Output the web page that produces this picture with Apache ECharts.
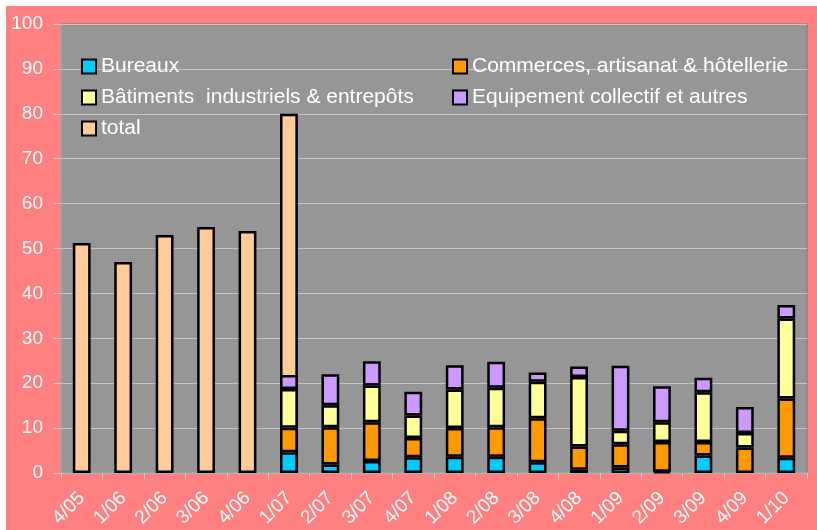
<!DOCTYPE html>
<html><head><meta charset="utf-8">
<script src="https://cdn.jsdelivr.net/npm/echarts@6/dist/echarts.min.js"></script>
<style>html,body{margin:0;padding:0;background:#fff;width:817px;height:530px;overflow:hidden}
#c{position:absolute;left:6px;top:6px;width:811px;height:524px}</style>
</head><body><div id="c"></div>
<script>
var categories = ['4/05','1/06','2/06','3/06','4/06','1/07','2/07','3/07','4/07','1/08','2/08','3/08','4/08','1/09','2/09','3/09','4/09','1/10'];
var bureaux    = [0,0,0,0,0,4.6,1.9,2.7,3.5,3.6,3.6,2.4,0.7,1.2,0.3,3.9,0,3.4];
var commerces  = [0,0,0,0,0,5.5,8.3,8.6,4.3,6.4,6.6,9.8,5.2,5.2,6.6,3.0,5.7,13.2];
var batiments  = [0,0,0,0,0,8.6,4.9,8.2,5.0,8.6,8.8,8.1,15.5,3.0,4.4,11.1,3.2,17.8];
var equipement = [0,0,0,0,0,3.1,6.9,5.4,5.3,5.4,5.8,2.1,2.3,14.5,8.0,3.2,5.8,3.0];
var total      = [51.2,47,53,54.8,53.9,80,0,0,0,0,0,0,0,0,0,0,0,0];
var yTicks = [0,10,20,30,40,50,60,70,80,90,100];

var chart = echarts.init(document.getElementById('c'));
var font = 'Liberation Sans, Arial, sans-serif';
function bar(name, data, color, stack){
  return {name:name, type:'bar', stack:stack,
    data:data.map(function(v){ return v === 0 ? '-' : v; }),
    barWidth:'43%', barGap:'-100%',
    itemStyle:{color:color, borderColor:'#000', borderWidth:2.5}};
}
var legendCommon = {orient:'vertical', padding:0, icon:'rect', itemWidth:14, itemHeight:14, itemGap:10,
  textStyle:{color:'#fff', fontSize:21, lineHeight:21, fontFamily:font},
  itemStyle:{borderColor:'#000', borderWidth:2}};
chart.setOption({
  backgroundColor:'#FF8080',
  animation:false,
  legend:[
    Object.assign({left:75, top:50, data:['Bureaux','Bâtiments  industriels & entrepôts','total']}, legendCommon),
    Object.assign({left:446, top:50, data:['Commerces, artisanat & hôtellerie','Equipement collectif et autres']}, legendCommon)
  ],
  grid:{left:55, top:18, right:10, bottom:57, show:true, backgroundColor:'#969696', borderColor:'#7a7a7a', borderWidth:1},
  xAxis:{type:'category', data:categories, boundaryGap:true,
    axisLine:{lineStyle:{color:'#aaaaaa', width:1.5}},
    axisTick:{show:true, length:6, lineStyle:{color:'#cccccc'}},
    axisLabel:{color:'#fff', fontSize:19, fontFamily:font, rotate:45, margin:22, interval:0}},
  yAxis:{type:'value', min:yTicks[0], max:yTicks[yTicks.length-1], interval:10,
    axisLine:{show:true, lineStyle:{color:'#aaaaaa', width:1.5}},
    axisTick:{show:true, length:7, lineStyle:{color:'#cccccc'}},
    axisLabel:{color:'#fff', fontSize:19, fontFamily:font, margin:18},
    splitLine:{lineStyle:{color:'#c4c4c4', width:1}}},
  series:[
    bar('total', total, '#FFCC99', 'tot'),
    bar('Bureaux', bureaux, '#00CCFF', 's'),
    bar('Commerces, artisanat & hôtellerie', commerces, '#FF9900', 's'),
    bar('Bâtiments  industriels & entrepôts', batiments, '#FFFF99', 's'),
    bar('Equipement collectif et autres', equipement, '#CC99FF', 's')
  ]
});
</script></body></html>
